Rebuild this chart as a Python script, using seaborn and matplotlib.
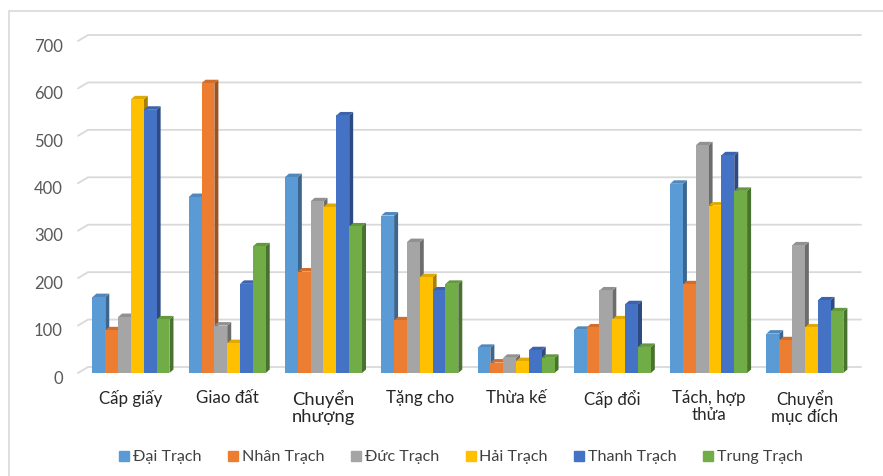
import numpy as np
import pandas as pd
import matplotlib
matplotlib.use("Agg")
import matplotlib.pyplot as plt
from matplotlib.patches import Polygon, Rectangle
from matplotlib.lines import Line2D
import matplotlib.colors as mcolors
import matplotlib.transforms as mtransforms
import seaborn as sns

# ---------------- data ----------------
categories = ["Cấp giấy", "Giao đất", "Chuyển\nnhượng", "Tặng cho", "Thừa kế",
              "Cấp đổi", "Tách, hợp\nthửa", "Chuyển\nmục đích"]
series_names = ["Đại Trạch", "Nhân Trạch", "Đức Trạch", "Hải Trạch", "Thanh Trạch", "Trung Trạch"]
dai_trach = [160, 371, 413, 332, 53, 91, 399, 83]
nhan_trach = [90, 611, 214, 111, 22, 96, 187, 69]
duc_trach = [118, 100, 362, 276, 32, 174, 480, 269]
hai_trach = [577, 63, 350, 202, 25, 113, 353, 96]
thanh_trach = [555, 188, 543, 174, 48, 145, 459, 153]
trung_trach = [113, 267, 309, 188, 32, 55, 384, 130]
y_ticks = [0, 100, 200, 300, 400, 500, 600, 700]
colors = ["#5B9BD5", "#ED7D31", "#A5A5A5", "#FFC000", "#4472C4", "#70AD47"]

series_values = [dai_trach, nhan_trach, duc_trach, hai_trach, thanh_trach, trung_trach]
df = pd.DataFrame({
    "cat": np.repeat([categories], len(series_names), axis=0).ravel(),
    "xa": np.repeat(series_names, len(categories)),
    "val": np.concatenate(series_values),
})

# ---------------- figure ----------------
sns.set_style("white")
plt.rcParams["font.family"] = ["Lato", "DejaVu Sans"]

W, H = 883, 476
DPI = 100
fig = plt.figure(figsize=(W / DPI, H / DPI), dpi=DPI)
fig.patch.set_facecolor("white")

# chart frame
fig.patches.append(Rectangle((9 / W, -0.05), 1.2, (H - 11) / H + 0.05,
                             transform=fig.transFigure, fill=False,
                             edgecolor="#D9D9D9", linewidth=1.2))

ax_left, ax_right = 78, 853
ax_bottom, ax_top = 373, 41
ax = fig.add_axes([ax_left / W, (H - ax_bottom) / H,
                   (ax_right - ax_left) / W, (ax_bottom - ax_top) / H])

sns.barplot(data=df, x="cat", y="val", hue="xa", order=categories,
            hue_order=series_names, palette=colors, saturation=1,
            width=0.8, gap=0, legend=False, ax=ax, edgecolor="none",
            errorbar=None)

ax.set_ylim(0, 700)
ax.set_xlim(-0.55, len(categories) - 0.5)
for s in ax.spines.values():
    s.set_visible(False)
ax.grid(False)
ax.set_xlabel("")
ax.set_ylabel("")
ax.set_yticks(y_ticks)
ax.set_yticklabels([str(v) for v in y_ticks], color="#595959", fontsize=12)
ax.tick_params(axis="y", length=0, pad=11)
ax.tick_params(axis="x", length=0, pad=12)
shift = mtransforms.ScaledTranslation(0, -3 / 72, fig.dpi_scale_trans)
for lbl in ax.get_yticklabels():
    lbl.set_transform(lbl.get_transform() + shift)
for lbl in ax.get_xticklabels():
    lbl.set_fontsize(13.2 if lbl.get_text() == "Chuyển\nnhượng" else 12.2)
    lbl.set_color("#262626")
    lbl.set_linespacing(1.1)
    lbl.set_verticalalignment("top")

# --- pixel -> data helpers
fig.canvas.draw()
inv = ax.transData.inverted()
def px2data(px, py):
    # px, py in image pixel coords (origin top-left)
    return inv.transform((px, H - py))

x0d, y0d = px2data(0, 0)
x1d, y1d = px2data(4, -3.5)
ddx, ddy = x1d - x0d, y1d - y0d

# back-wall gridlines
gx0, _ = px2data(ax_left, 0)
gx1, _ = px2data(ax_left + 10, 0)
gx2, _ = px2data(861, 0)
_, gdy0 = px2data(0, 0)
_, gdy1 = px2data(0, -6)
gdy = gdy1 - gdy0
for v in y_ticks:
    ax.add_line(Line2D([gx0, gx1, gx2], [v, v + gdy, v + gdy], color="#D9D9D9",
                       linewidth=1.3, zorder=0.5, clip_on=False))

# 3D faces for bars
bars = [p for p in ax.patches if isinstance(p, Rectangle) and p.get_height() > 0]
bars_sorted = sorted(bars, key=lambda p: p.get_x())
for rank, p in enumerate(bars_sorted):
    z = 2 + rank * 0.1
    x = p.get_x()
    w = p.get_width()
    h = p.get_height()
    fc = np.array(mcolors.to_rgb(p.get_facecolor()))
    side_c = tuple(fc * 0.66)
    top_c = tuple(np.clip(fc * 0.88, 0, 1))
    p.set_zorder(z + 0.05)
    side = Polygon([(x + w, 0), (x + w + ddx, ddy), (x + w + ddx, h + ddy), (x + w, h)],
                   closed=True, facecolor=side_c, edgecolor="none", zorder=z, clip_on=False)
    top = Polygon([(x, h), (x + ddx, h + ddy), (x + w + ddx, h + ddy), (x + w, h)],
                  closed=True, facecolor=top_c, edgecolor="none", zorder=z, clip_on=False)
    ax.add_patch(side)
    ax.add_patch(top)

# legend
handles = [Line2D([0], [0], marker="s", linestyle="none", markersize=7,
                  markerfacecolor=c, markeredgecolor=c) for c in colors]
fig.legend(handles, series_names, loc="center", ncol=6,
           bbox_to_anchor=(0.522, (H - 457) / H), frameon=False,
           fontsize=11.6, labelcolor="#404040", handlelength=0.7,
           handletextpad=0.2, columnspacing=1.6)

fig.savefig("out.png", dpi=DPI, facecolor="white")
